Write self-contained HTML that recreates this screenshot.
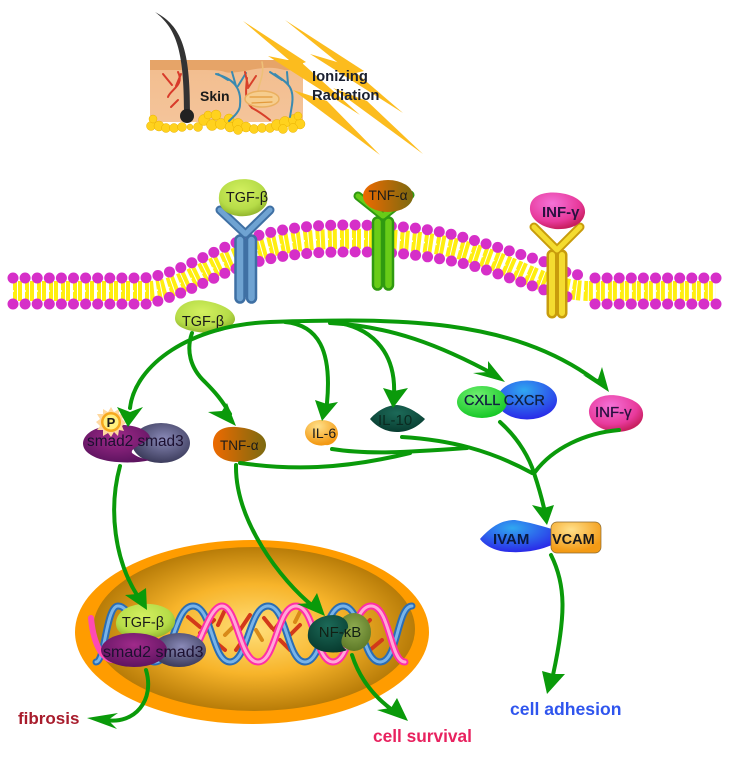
<!DOCTYPE html>
<html><head><meta charset="utf-8"><style>html,body{margin:0;padding:0;background:#fff}svg{display:block;filter:blur(.35px)}text{font-family:"Liberation Sans",sans-serif}</style></head>
<body>
<svg width="730" height="759" viewBox="0 0 730 759" xmlns="http://www.w3.org/2000/svg">
<defs>
<radialGradient id="nuc" cx="50%" cy="50%" r="50%"><stop offset="0" stop-color="#ffdf7a"/><stop offset=".55" stop-color="#f7b42a"/><stop offset="1" stop-color="#b87c08"/></radialGradient>
<radialGradient id="lime" cx="45%" cy="35%" r="65%"><stop offset="0" stop-color="#d4f060"/><stop offset=".7" stop-color="#b6dc48"/><stop offset="1" stop-color="#93b62e"/></radialGradient>
<linearGradient id="tnf" x1="0" x2="1"><stop offset="0" stop-color="#ee6a00"/><stop offset="1" stop-color="#7c6a10"/></linearGradient>
<radialGradient id="inf" cx="40%" cy="30%" r="70%"><stop offset="0" stop-color="#f472d8"/><stop offset=".7" stop-color="#e83a9c"/><stop offset="1" stop-color="#c82060"/></radialGradient>
<radialGradient id="mag" cx="50%" cy="35%" r="65%"><stop offset="0" stop-color="#a02a8a"/><stop offset="1" stop-color="#5e1460"/></radialGradient>
<radialGradient id="gry" cx="55%" cy="40%" r="60%"><stop offset="0" stop-color="#8a8ab8"/><stop offset="1" stop-color="#3c3c5c"/></radialGradient>
<radialGradient id="org" cx="40%" cy="25%" r="70%"><stop offset="0" stop-color="#ffe08a"/><stop offset="1" stop-color="#f39a14"/></radialGradient>
<radialGradient id="dgr" cx="50%" cy="30%" r="70%"><stop offset="0" stop-color="#1c6a58"/><stop offset="1" stop-color="#083c30"/></radialGradient>
<radialGradient id="grn" cx="40%" cy="30%" r="70%"><stop offset="0" stop-color="#70f070"/><stop offset="1" stop-color="#18c828"/></radialGradient>
<radialGradient id="blu" cx="45%" cy="25%" r="75%"><stop offset="0" stop-color="#30a8f0"/><stop offset="1" stop-color="#2a2ae8"/></radialGradient>
<radialGradient id="oli" cx="50%" cy="40%" r="60%"><stop offset="0" stop-color="#90ac50"/><stop offset="1" stop-color="#5e7a28"/></radialGradient>
<linearGradient id="skin" x1="0" x2="0" y1="0" y2="1"><stop offset="0" stop-color="#f2bd8e"/><stop offset="1" stop-color="#f4c49a"/></linearGradient>
</defs>

<!-- skin -->
<rect x="150" y="60" width="153" height="62" fill="url(#skin)"/>
<path d="M150 60H303V68Q290 72 280 69T250 70T225 72T205 70T180 70T150 70Z" fill="#e6a468"/>
<g fill="#ffd21e" stroke="#e8b000" stroke-width=".5">
<circle cx="151" cy="126" r="4.5"/><circle cx="153" cy="119" r="4"/><circle cx="159" cy="126" r="5"/><circle cx="166" cy="128" r="4.5"/><circle cx="174" cy="128" r="4.5"/><circle cx="182" cy="127" r="4.5"/><circle cx="190" cy="127" r="3"/><circle cx="198" cy="127" r="4.5"/><circle cx="204" cy="120" r="5.5"/><circle cx="212" cy="125" r="5.5"/><circle cx="208" cy="115" r="4"/><circle cx="216" cy="115" r="5"/><circle cx="221" cy="124" r="5.5"/><circle cx="229" cy="119" r="5"/><circle cx="230" cy="127" r="5"/><circle cx="238" cy="124" r="5.5"/><circle cx="246" cy="127" r="5"/><circle cx="238" cy="130" r="4.5"/><circle cx="254" cy="129" r="4.5"/><circle cx="262" cy="128" r="4.5"/><circle cx="270" cy="128" r="4.5"/><circle cx="277" cy="125" r="5.5"/><circle cx="285" cy="122" r="5.5"/><circle cx="294" cy="120" r="5.5"/><circle cx="300" cy="124" r="5"/><circle cx="293" cy="128" r="4.5"/><circle cx="283" cy="129" r="4.5"/><circle cx="298" cy="116" r="4"/></g>
<g fill="none" stroke-linecap="round">
<path d="M178 72C185 85 170 90 168 97M163 74L172 85M181 74L176 86M178 100L171 107" stroke="#d83a2a" stroke-width="2"/>
<path d="M216 74C230 78 242 85 240 105C240 112 232 118 229 121M218 74L228 80M232 72L236 86M246 73L238 86" stroke="#3a8ab0" stroke-width="2"/>
<path d="M275 74C285 82 295 85 292 105L290 117M270 72L282 80M287 72L288 84" stroke="#3a8ab0" stroke-width="2"/>
<path d="M247 78C246 90 244 100 252 108C260 112 265 116 270 120M245 72L248 86M256 76L248 88" stroke="#d8402a" stroke-width="2"/>
<path d="M262 62C265 75 258 85 258 92" stroke="#eec078" stroke-width="1.6"/>
<ellipse cx="262" cy="99" rx="17" ry="8" stroke="#eab060" stroke-width="1.5" fill="#f6cd8e"/>
<path d="M250 97L272 97M252 103L272 102" stroke="#e39a3c" stroke-width="1.2"/>
</g>
<path d="M155 12C176 28 184 50 184 112L190 112C190 50 182 26 155 12Z" fill="#333"/>
<ellipse cx="187" cy="116" rx="7" ry="7" fill="#222"/>
<!-- rays -->
<g fill="#fcbc1e">
<polygon points="243,21 306,62 296,66"/>
<polygon points="268,56 302,63 360,115"/>
<polygon points="293,90 327,101 380,155"/>
<polygon points="285,20 364,71 352,74"/>
<polygon points="310,54 347,65 403,113"/>
<polygon points="333,88 367,101 423,154"/>
</g>
<text x="200" y="101" font-size="14" font-weight="bold" fill="#1a1a1a">Skin</text>
<text x="312" y="81" font-size="14.8" font-weight="bold" fill="#1a2030">Ionizing</text>
<text x="312" y="100" font-size="14.8" font-weight="bold" fill="#1a2030">Radiation</text>

<!-- membrane -->
<g fill="none">
<path d="M13 291H148C175 291 200 272 235 258C270 245 300 239 340 239C400 238 440 242 475 254C520 268 550 291 590 291H716" stroke="#ffee10" stroke-width="20" stroke-dasharray="4 1 4 3"/>
<path d="M13 291H148C175 291 200 272 235 258C270 245 300 239 340 239C400 238 440 242 475 254C520 268 550 291 590 291H716" stroke="#fff" stroke-width="1.6" stroke-dasharray="1 11"/>
<g stroke="#d62fc8" stroke-width="11" stroke-linecap="round" stroke-dasharray="0 12.1">
<path d="M13 278H143C170 276 200 258 230 245C265 231 300 225 345 225C395 225 430 228 462 237C495 246 525 256 545 262C560 270 570 275 582 275"/>
<path d="M13 304H146C175 298 200 284 230 271C265 257 300 252 345 252C400 251 435 257 470 265C505 275 545 292 572 298"/>
<path d="M716 278H593"/>
<path d="M716 304H583"/>
</g>
</g>

<!-- receptors -->
<g fill="none" stroke-linecap="round">
<g stroke="#3f70a4" stroke-width="11.5"><path d="M240 240V298M251.5 240V298"/><path d="M245.5 234L220 210M245.5 234L270 210" stroke-width="9"/></g>
<g stroke="#6fa3d2" stroke-width="6.5"><path d="M240 240V298M251.5 240V298"/><path d="M245.5 234L220 210M245.5 234L270 210" stroke-width="5"/></g>
<g stroke="#2f9a10" stroke-width="11.5"><path d="M377.5 222V285M388.5 222V285"/><path d="M383 216L358 196M383 216L410 195" stroke-width="9"/></g>
<g stroke="#68cc18" stroke-width="6.5"><path d="M377.5 222V285M388.5 222V285"/><path d="M383 216L358 196M383 216L410 195" stroke-width="5"/></g>
<g stroke="#c89c0c" stroke-width="11"><path d="M552 255V313M562 255V313"/><path d="M557 250L534 227M557 250L580 227" stroke-width="9"/></g>
<g stroke="#f4dc30" stroke-width="6"><path d="M552 255V313M562 255V313"/><path d="M557 250L534 227M557 250L580 227" stroke-width="5"/></g>
</g>

<!-- ligands -->
<path d="M219 196C220 182 238 177 252 180C266 184 270 196 266 205C258 217 240 219 228 213C222 210 218 204 219 196Z" fill="url(#lime)"/>
<text x="247" y="202" text-anchor="middle" font-size="14.5" fill="#1a1a1a">TGF-β</text>
<path d="M175 318C176 305 190 298 206 301C224 304 236 312 235 320C232 330 215 335 198 332C184 330 175 326 175 318Z" fill="url(#lime)"/>
<text x="203" y="326" text-anchor="middle" font-size="14.5" fill="#1a1a1a">TGF-β</text>
<ellipse cx="388" cy="196" rx="25" ry="16" fill="url(#tnf)"/>
<text x="388" y="200" text-anchor="middle" font-size="13.7" fill="#1a1a1a">TNF-α</text>
<path d="M530 207C531 195 545 191 560 193C576 195 586 203 585 213C583 225 570 230 555 229C540 227 529 218 530 207Z" fill="url(#inf)"/>
<text x="542" y="217" font-size="15" font-weight="bold" fill="#2a1040">INF-γ</text>

<!-- nucleus -->
<ellipse cx="252" cy="632" rx="177" ry="92" fill="#ff9c00"/>
<ellipse cx="254" cy="629" rx="161" ry="82" fill="url(#nuc)"/>

<!-- rungs -->
<g stroke-width="4" stroke-linecap="round">
<path d="M188 617L200 627M214 620L200 633M225 650L213 640M224 612L218 625M264 618L272 628M284 617L274 630M290 650L280 640M300 625L290 635M243 640L236 650M250 615L240 630M328 620L315 632M370 620L360 630M382 640L370 650M368 607L354 622" stroke="#d2391a"/>
<path d="M195 640L208 630M262 640L256 630M300 612L295 622M235 625L225 635M355 640L360 632" stroke="#d98a18"/>
</g>
<!-- DNA -->
<g fill="none" stroke-linecap="round">
<path d="M96 662C105 662 106 606 118 606C136 606 137 662 155 662S174 606 193 606S212 662 230 662S249 606 268 606S287 662 305 662S324 606 343 606S362 662 380 662S397 606 412 606" stroke="#2a6db5" stroke-width="7"/>
<path d="M96 662C105 662 106 606 118 606C136 606 137 662 155 662S174 606 193 606S212 662 230 662S249 606 268 606S287 662 305 662S324 606 343 606S362 662 380 662S397 606 412 606" stroke="#79b4e8" stroke-width="3"/>
<path d="M183 662C197 662 207 606 222 606S240 662 258 662S277 606 296 606S315 662 333 662S352 606 371 606S390 662 405 662" stroke="#ff2ea6" stroke-width="7"/>
<path d="M183 662C197 662 207 606 222 606S240 662 258 662S277 606 296 606S315 662 333 662S352 606 371 606S390 662 405 662" stroke="#ffa8d8" stroke-width="3"/>
<path d="M91 618C93 640 100 658 112 660" stroke="#ff4ab4" stroke-width="6"/>
</g>

<!-- nucleus nodes -->
<path d="M116 622C118 608 135 603 150 604C166 605 176 613 175 622C174 634 155 640 140 639C125 638 115 632 116 622Z" fill="url(#lime)"/>
<text x="143" y="627" text-anchor="middle" font-size="14.5" fill="#1a1a1a">TGF-β</text>
<ellipse cx="179" cy="650" rx="27" ry="17" fill="url(#gry)"/>
<ellipse cx="134" cy="650" rx="33" ry="17" fill="url(#mag)"/>
<text x="103" y="657" font-size="16" fill="#1c1030">smad2 smad3</text>
<ellipse cx="354" cy="632" rx="17" ry="19" fill="url(#oli)"/>
<path d="M308 633C309 621 322 615 334 615C344 616 349 622 348 628C341 636 338 645 347 650C338 654 322 653 315 648C310 644 307 640 308 633Z" fill="url(#dgr)"/>
<text x="340" y="637" text-anchor="middle" font-size="15" fill="#122014">NF-κB</text>

<!-- pathway nodes -->
<ellipse cx="161" cy="443" rx="29" ry="20" fill="url(#gry)"/>
<path d="M83 443C84 432 98 426 115 425C135 424 148 430 150 437C143 445 130 448 132 453C137 457 143 459 150 460C135 464 110 463 97 458C88 454 83 450 83 443Z" fill="url(#mag)"/>
<g transform="translate(111 422)"><polygon fill="#ffd9a0" points="0,-15 3,-10 8,-13 8,-8 14,-7 11,-3 15,1 11,4 13,9 8,8 7,14 3,10 0,15 -3,11 -8,14 -8,8 -14,8 -11,4 -15,0 -11,-3 -14,-8 -8,-8 -8,-13 -3,-10"/><circle r="10" fill="#f6a81e"/><circle r="7.5" fill="#fff080"/></g>
<text x="111" y="427" text-anchor="middle" font-size="13" font-weight="bold" fill="#1a1a1a">P</text>
<text x="87" y="446" font-size="15.4" fill="#1c1030">smad2 smad3</text>
<path d="M213 444C213 432 222 426 236 427C252 428 266 434 266 445C266 456 252 462 238 462C224 462 213 456 213 444Z" fill="url(#tnf)"/>
<text x="220" y="450" font-size="13.5" fill="#1a1a1a">TNF-α</text>
<path d="M305 433C305 425 312 420 321 420C332 420 338 426 338 434C337 442 330 446 325 445C320 447 306 444 305 433Z" fill="url(#org)"/>
<text x="312" y="438" font-size="14" fill="#1a1a1a">IL-6</text>
<path d="M370 419C378 410 388 405 397 405C408 406 418 413 425 419C418 427 408 432 397 432C385 432 376 426 370 419Z" fill="url(#dgr)"/>
<text x="378" y="425" font-size="15" fill="#0a2a20">IL-10</text>
<ellipse cx="527" cy="400" rx="30" ry="19.5" fill="url(#blu)"/>
<ellipse cx="482" cy="402" rx="25" ry="16" fill="url(#grn)"/>
<text x="464" y="405" font-size="14.5" stroke="#102040" stroke-width=".3" fill="#102040">CXLL CXCR</text>
<path d="M589 410C591 398 605 393 620 396C634 399 644 405 643 416C642 426 630 432 615 432C602 431 588 423 589 410Z" fill="url(#inf)"/>
<text x="595" y="417" font-size="15" fill="#2a1040" stroke="#2a1040" stroke-width=".3">INF-γ</text>
<path d="M480 539C490 528 500 520 515 520C528 522 542 526 552 529L552 545C540 550 525 553 510 552C497 552 485 546 480 539Z" fill="url(#blu)"/>
<rect x="551" y="522" width="50" height="31" rx="6" fill="url(#org)" stroke="#8a6a30" stroke-width=".7"/>
<text x="493" y="544" font-size="15" font-weight="bold" fill="#0a1a40">IVAM</text>
<text x="552" y="544" font-size="14.5" font-weight="bold" fill="#1a1a1a">VCAM</text>

<!-- connectors -->
<g fill="none" stroke="#0a9a0a" stroke-width="4" stroke-linecap="round">
<path d="M130 408C135 365 190 325 270 322C400 318 510 318 595 380"/>
<path d="M330 323C390 326 440 345 495 375"/>
<path d="M340 323C375 330 396 355 394 395"/>
<path d="M285 322C318 325 332 350 327 403"/>
<path d="M192 333C186 350 190 368 205 382C215 392 222 400 230 414"/>
<path d="M240 463C290 470 340 470 410 453"/>
<path d="M332 449C370 455 410 452 467 448"/>
<path d="M402 437C450 440 490 450 532 473"/>
<path d="M500 422C520 440 530 460 534 473C538 485 541 495 544 508"/>
<path d="M619 430C585 433 553 448 535 472"/>
<path d="M551 555C566 585 566 615 553 675"/>
<path d="M236 465C235 520 280 580 314 607"/>
<path d="M120 466C108 510 115 560 137 595"/>
<path d="M146 670C155 700 135 725 105 720"/>
<path d="M352 655C360 680 375 698 395 712"/>
</g>
<g fill="#0a9a0a">
<polygon points="128,427 117,407 130,412 143,407"/>
<polygon points="236,426 208,412 222,411 227,403"/>
<polygon points="322,421 315,400 327,404 338,402"/>
<polygon points="393,408 383,388 394,391 408,388"/>
<polygon points="505,382 473,373 488,372 488,361"/>
<polygon points="609,392 583,375 598,379 602,367"/>
<polygon points="547,525 532,505 544,508 554,505"/>
<polygon points="547,694 542,671 553,674 565,674"/>
<polygon points="325,616 297,604 311,603 317,593"/>
<polygon points="147,610 125,595 137,594 146,588"/>
<polygon points="87,718 118,713 108,720 117,729"/>
<polygon points="408,721 377,710 391,708 397,698"/>
</g>

<text x="18" y="724" font-size="17" font-weight="bold" fill="#a81c2c">fibrosis</text>
<text x="373" y="742" font-size="17.3" font-weight="bold" fill="#e8225f">cell survival</text>
<text x="510" y="715" font-size="17.6" font-weight="bold" fill="#2f55ee">cell adhesion</text>
</svg>
</body></html>
